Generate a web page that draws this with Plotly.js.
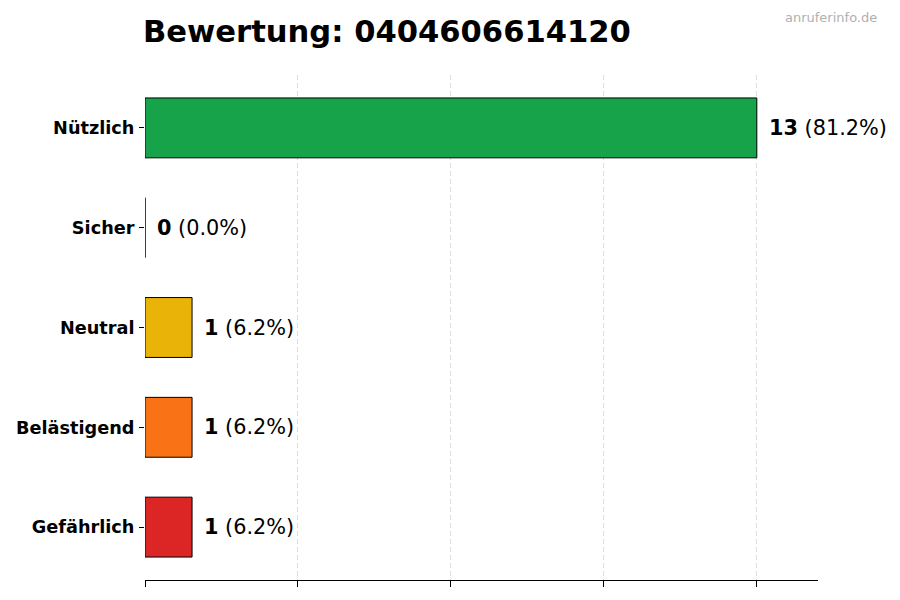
<!DOCTYPE html>
<html>
<head>
<meta charset="utf-8">
<script src="https://cdn.plot.ly/plotly-3.0.1.min.js"></script>
<style>html,body{margin:0;padding:0;background:#fff;}#chart{width:900px;height:600px;}</style>
</head>
<body>
<div id="chart"></div>
<script>
const categories = ["Nützlich", "Sicher", "Neutral", "Belästigend", "Gefährlich"];
const counts = [13, 0, 1, 1, 1];
const percents = ["81.2%", "0.0%", "6.2%", "6.2%", "6.2%"];
const colors = ["#16a34a", "#15803d", "#eab308", "#f97316", "#dc2626"];
const titleText = "Bewertung: 0404606614120";
const watermark = "anruferinfo.de";

const maxVal = Math.max(...counts);
const xMax = maxVal * 1.1;
const gridVals = [0, 0.25, 0.5, 0.75, 1].map(f => f * maxVal);
const idx = categories.map((_, i) => i);

const trace = {
  type: "bar",
  orientation: "h",
  x: counts,
  y: idx,
  width: 0.6,
  marker: { color: colors, line: { color: "#000", width: 1 } },
  hoverinfo: "skip"
};

const annotations = counts.map((v, i) => ({
  x: v, y: i, xref: "x", yref: "y",
  text: "<b>" + v + "</b> (" + percents[i] + ")",
  showarrow: false, xanchor: "left", yanchor: "middle",
  xshift: 10,
  font: { family: "DejaVu Sans", size: 20.8, color: "#000" }
}));

const pw = 900 - 145 - 82, ph = 600 - 75 - 20;
annotations.push({
  x: (879 - 145) / pw, y: (600 - 20 - 18) / ph, xref: "paper", yref: "paper",
  text: watermark, showarrow: false, xanchor: "right", yanchor: "middle",
  font: { family: "DejaVu Sans", size: 13, color: "#b0b0b0" }
});

const layout = {
  width: 900, height: 600,
  paper_bgcolor: "#fff", plot_bgcolor: "#fff",
  margin: { l: 145, r: 82, t: 75, b: 20 },
  showlegend: false,
  title: {
    text: "<b>" + titleText + "</b>",
    x: 143 / 900, xanchor: "left", xref: "container",
    y: 1 - 31 / 600, yanchor: "middle", yref: "container",
    font: { family: "DejaVu Sans", size: 30.6, color: "#000" }
  },
  xaxis: {
    range: [0, xMax],
    tickvals: gridVals,
    ticktext: gridVals.map(() => ""),
    showgrid: true, gridcolor: "#dddddd", griddash: "5px,3px", gridwidth: 1,
    zeroline: false,
    showline: true, linecolor: "#000", linewidth: 1,
    ticks: "outside", ticklen: 6, tickcolor: "#000",
    fixedrange: true
  },
  yaxis: {
    range: [4.53, -0.53],
    tickvals: idx,
    ticktext: categories.map(c => "<b>" + c + "</b>"),
    tickfont: { family: "DejaVu Sans", size: 17.7, color: "#000" },
    ticks: "outside", ticklen: 5, tickcolor: "#000",
    showgrid: false, zeroline: false, showline: false,
    ticklabelstandoff: 1,
    fixedrange: true
  },
  annotations: annotations
};

Plotly.newPlot("chart", [trace], layout, { displayModeBar: false, staticPlot: true });
</script>
</body>
</html>
